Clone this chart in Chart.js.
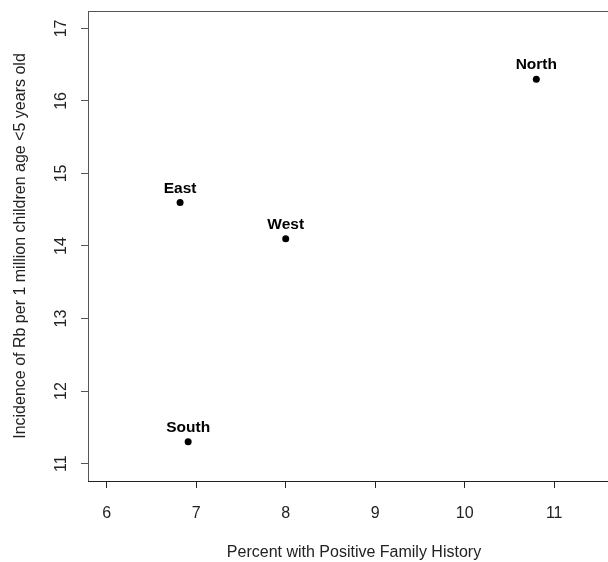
<!DOCTYPE html>
<html>
<head>
<meta charset="utf-8">
<script src="https://cdn.jsdelivr.net/npm/chart.js@4.4.1/dist/chart.umd.min.js"></script>
<style>
html,body{margin:0;padding:0;background:#fff;overflow:hidden;width:608px;height:562px;}
#wrap{width:680px;height:562px;position:relative;}
</style>
</head>
<body>
<div id="wrap"><canvas id="c" width="680" height="562"></canvas></div>
<script>
const regions = ["North", "East", "West", "South"];
const familyHistory = [10.8, 6.82, 8.0, 6.91];
const incidence = [16.3, 14.6, 14.1, 11.3];
const xTicks = [6, 7, 8, 9, 10, 11];
const yTicks = [11, 12, 13, 14, 15, 16, 17];
const xTitle = "Percent with Positive Family History";
const yTitle = "Incidence of Rb per 1 million children age <5 years old";

const FONT = "'Liberation Sans', Arial, sans-serif";

const boxPlugin = {
  id: 'boxPlugin',
  afterDraw(chart) {
    const ctx = chart.ctx, a = chart.chartArea;
    ctx.save();
    ctx.strokeStyle = '#555';
    ctx.lineWidth = 1;
    ctx.strokeRect(Math.round(a.left) + 0.5, Math.round(a.top) + 0.5,
                   Math.round(a.right - a.left), Math.round(a.bottom - a.top));
    ctx.beginPath();
    ctx.strokeStyle = '#222';
    ctx.moveTo(a.left, Math.round(a.bottom) + 0.5);
    ctx.lineTo(a.right, Math.round(a.bottom) + 0.5);
    ctx.stroke();
    // y tick labels rotated (parallel to axis)
    const ys = chart.scales.y;
    ctx.fillStyle = '#222';
    ctx.font = '16px ' + FONT;
    ctx.textAlign = 'center';
    ctx.textBaseline = 'middle';
    yTicks.forEach(v => {
      const py = ys.getPixelForValue(v);
      ctx.save();
      ctx.translate(62, py);
      ctx.rotate(-Math.PI / 2);
      ctx.fillText(String(v), 0, 0);
      ctx.restore();
    });
    // point labels
    const meta = chart.getDatasetMeta(0);
    ctx.font = 'bold 15.5px ' + FONT;
    ctx.fillStyle = '#000';
    meta.data.forEach((pt, i) => {
      ctx.fillText(regions[i], pt.x, pt.y - 14);
    });
    ctx.restore();
  }
};

new Chart(document.getElementById('c'), {
  type: 'scatter',
  data: {
    datasets: [{
      data: familyHistory.map((x, i) => ({x: x, y: incidence[i]})),
      backgroundColor: '#000',
      borderColor: '#000',
      pointRadius: 3.5,
      pointHoverRadius: 3.5,
      borderWidth: 0
    }]
  },
  options: {
    responsive: false,
    animation: false,
    devicePixelRatio: 1,
    layout: { padding: { top: 11, right: 60, left: 0, bottom: 0 } },
    plugins: { legend: { display: false }, tooltip: { enabled: false } },
    scales: {
      x: {
        type: 'linear',
        min: 5.791, max: 11.735,
        afterBuildTicks: s => { s.ticks = xTicks.map(v => ({value: v})); },
        afterFit: s => { s.height = 81; },
        grid: { drawOnChartArea: false, drawTicks: true, tickLength: 7, tickColor: '#222' },
        border: { display: false },
        ticks: { color: '#222', font: { family: FONT, size: 16 }, padding: 16, maxRotation: 0, minRotation: 0 },
        title: { display: true, text: xTitle, color: '#222', font: { family: FONT, size: 16 }, padding: { top: 10, bottom: 0 } }
      },
      y: {
        type: 'linear',
        min: 10.76, max: 17.24,
        afterBuildTicks: s => { s.ticks = yTicks.map(v => ({value: v})); },
        afterFit: s => { s.width = 88; },
        grid: { drawOnChartArea: false, drawTicks: true, tickLength: 7, tickColor: '#555' },
        border: { display: false },
        ticks: { color: 'rgba(0,0,0,0)', font: { family: FONT, size: 8 } },
        title: { display: true, text: yTitle, color: '#222', font: { family: FONT, size: 16 }, padding: { top: 11, bottom: 0 } }
      }
    }
  },
  plugins: [boxPlugin]
});
</script>
</body>
</html>
